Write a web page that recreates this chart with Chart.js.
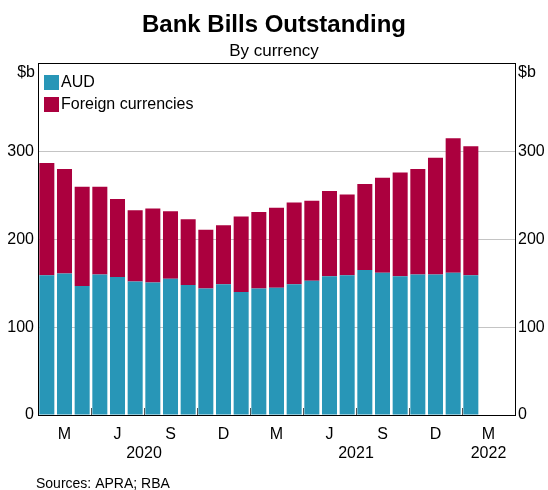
<!DOCTYPE html>
<html>
<head>
<meta charset="utf-8">
<script src="https://cdn.jsdelivr.net/npm/chart.js@4"></script>
<style>
  body { margin: 0; background: #fff; }
  #wrap { width: 548px; height: 490px; }
</style>
</head>
<body>
<div id="wrap"><canvas id="billsChart" width="548" height="490"></canvas></div>
<script>
// Meses (ene 2020 - mar 2022); los dos últimos quedan vacíos
const months = [
  'Jan 2020', 'Feb 2020', 'Mar 2020', 'Apr 2020', 'May 2020', 'Jun 2020',
  'Jul 2020', 'Aug 2020', 'Sep 2020', 'Oct 2020', 'Nov 2020', 'Dec 2020',
  'Jan 2021', 'Feb 2021', 'Mar 2021', 'Apr 2021', 'May 2021', 'Jun 2021',
  'Jul 2021', 'Aug 2021', 'Sep 2021', 'Oct 2021', 'Nov 2021', 'Dec 2021',
  'Jan 2022', 'Feb 2022', 'Mar 2022'
];

// Valores en $b
const aud = [159, 161, 147, 160, 157, 152, 151, 155, 148, 144, 149, 140,
             144, 145, 149, 153, 158, 159, 165, 162, 158, 160, 160, 162, 159];
const foreign = [128, 119, 113, 100, 89, 81, 84, 77, 75, 67, 67, 86,
                 87, 91, 93, 91, 97, 92, 98, 108, 118, 120, 133, 153, 147];

// Etiquetas del eje
const quarterLabels = ['M', 'J', 'S', 'D', 'M', 'J', 'S', 'D', 'M'];
const yearLabels = ['2020', '2021', '2022'];
const yTicks = [0, 100, 200, 300, 400];

const FONT = "'Liberation Sans', Arial, sans-serif";

// Dibuja textos extra, leyenda y marcas del eje x
const extrasPlugin = {
  id: 'extras',
  afterDatasetsDraw(chart) {
    const ctx = chart.ctx;
    const x = chart.scales.x;
    const area = chart.chartArea;
    const mid = (a, b) => (x.getPixelForValue(a) + x.getPixelForValue(b)) / 2;

    ctx.save();
    // marcas trimestrales
    ctx.strokeStyle = '#555';
    ctx.lineWidth = 1;
    for (let i = 3; i < months.length; i += 3) {
      const px = Math.round(mid(i - 1, i)) + 0.5;
      ctx.beginPath();
      ctx.moveTo(px, area.bottom);
      ctx.lineTo(px, area.bottom - 7);
      ctx.stroke();
    }

    ctx.fillStyle = '#000';
    ctx.font = '16px ' + FONT;
    ctx.textBaseline = 'middle';

    // años
    ctx.textAlign = 'center';
    ctx.fillText(yearLabels[0], mid(5, 6), 454);
    ctx.fillText(yearLabels[1], mid(17, 18), 454);
    ctx.fillText(yearLabels[2], x.getPixelForValue(25), 454);

    // unidades
    ctx.textAlign = 'right';
    ctx.fillText('$b', area.left - 3, 73);
    ctx.textAlign = 'left';
    ctx.fillText('$b', area.right + 3, 73);

    // leyenda
    chart.data.datasets.forEach((ds, i) => {
      const y = 75 + i * 22;
      ctx.fillStyle = ds.backgroundColor;
      ctx.fillRect(area.left + 6, y, 15, 15);
      ctx.fillStyle = '#000';
      ctx.textAlign = 'left';
      ctx.fillText(ds.label, area.left + 23, y + 8);
    });

    // fuentes
    ctx.font = '14px ' + FONT;
    ctx.fillText('Sources: APRA; RBA', 36, 484);
    ctx.restore();
  }
};

new Chart(document.getElementById('billsChart'), {
  type: 'bar',
  data: {
    labels: months,
    datasets: [
      { label: 'AUD', data: aud, backgroundColor: '#2896b7' },
      { label: 'Foreign currencies', data: foreign, backgroundColor: '#ab003e' }
    ]
  },
  options: {
    responsive: false,
    animation: false,
    events: [],
    layout: { padding: 0 },
    datasets: { bar: { barPercentage: 0.85, categoryPercentage: 1 } },
    plugins: {
      legend: { display: false },
      tooltip: { enabled: false },
      title: {
        display: true,
        text: 'Bank Bills Outstanding',
        color: '#000',
        font: { family: FONT, size: 24, weight: 'bold', lineHeight: 1.2 },
        padding: { top: 11, bottom: 0 }
      },
      subtitle: {
        display: true,
        text: 'By currency',
        color: '#000',
        font: { family: FONT, size: 17, lineHeight: 1.2 },
        padding: { top: 1, bottom: 2.5 }
      }
    },
    scales: {
      x: {
        stacked: true,
        grid: { display: false },
        border: { display: true, color: '#000', width: 1 },
        ticks: {
          autoSkip: false,
          maxRotation: 0,
          padding: 2,
          color: '#000',
          font: { family: FONT, size: 16 },
          callback: (v, i) => (i % 3 === 1 ? quarterLabels[(i - 1) / 3] : '')
        },
        afterFit: s => { s.height = 75; }
      },
      y: {
        stacked: true,
        position: 'left',
        min: 0,
        max: 400,
        afterBuildTicks: s => { s.ticks = yTicks.map(v => ({ value: v })); },
        grid: {
          drawTicks: false,
          color: c => (c.tick.value === 400 ? '#000' : c.tick.value === 0 ? 'rgba(0,0,0,0)' : '#c4c4c4')
        },
        border: { display: true, color: '#000', width: 1 },
        ticks: {
          padding: 4,
          color: '#000',
          font: { family: FONT, size: 16 },
          callback: v => (v === 400 ? '' : v)
        },
        afterFit: s => { s.width = 38; }
      },
      y2: {
        position: 'right',
        min: 0,
        max: 400,
        afterBuildTicks: s => { s.ticks = yTicks.map(v => ({ value: v })); },
        grid: { display: false, drawTicks: false },
        border: { display: true, color: '#000', width: 1 },
        ticks: {
          padding: 3,
          color: '#000',
          font: { family: FONT, size: 16 },
          callback: v => (v === 400 ? '' : v)
        },
        afterFit: s => { s.width = 33; }
      }
    }
  },
  plugins: [extrasPlugin]
});
</script>
</body>
</html>
